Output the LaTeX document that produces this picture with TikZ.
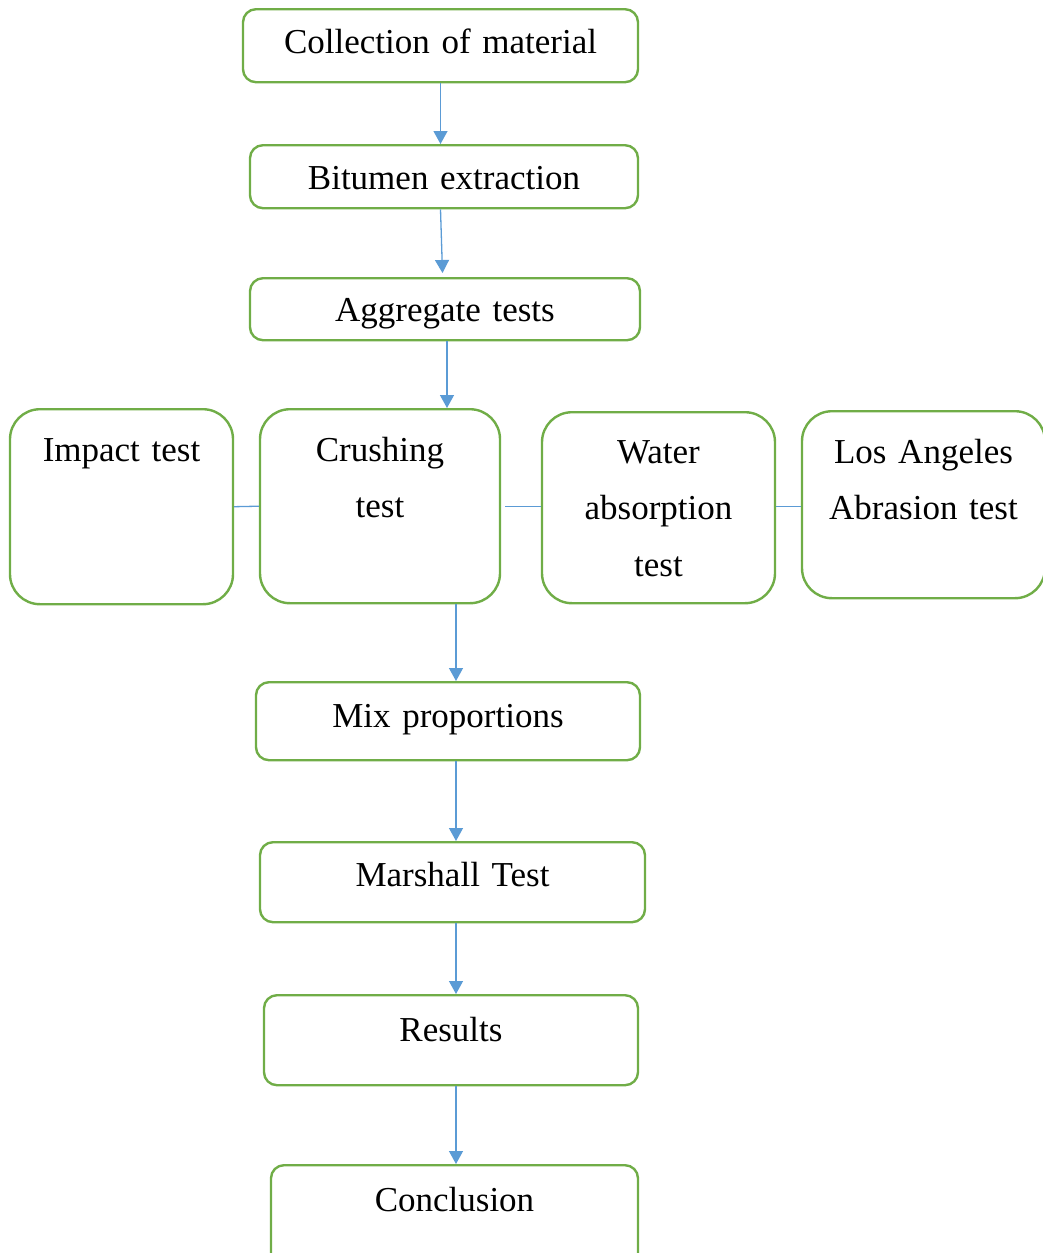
\documentclass[tikz,border=0pt]{standalone}
\usepackage{fontspec}
\setmainfont{Liberation Serif}
\usetikzlibrary{arrows.meta,calc}
\definecolor{boxgreen}{HTML}{70AD47}
\definecolor{linkblue}{HTML}{5B9BD5}
\begin{document}
\begin{tikzpicture}[x=1pt,y=-1pt,
  box/.style={draw=boxgreen, line width=2.4pt, rounded corners=13pt, inner sep=0pt,
    anchor=north, align=center, font=\fontsize{35}{56.5}\selectfont},
  tallbox/.style={box, rounded corners=30pt},
  arr/.style={draw=linkblue, line width=1.3pt, -{Triangle[width=14pt,length=13pt]}},
  link/.style={draw=linkblue, line width=1.3pt}]
\useasboundingbox (0,0) rectangle (1042,1253);

\node[box, text width=395pt, text height=44pt, text depth=29pt] (collect) at (440.5,8) {Collection of material};
\node[box, text width=388pt, text height=44pt, text depth=19pt] (bitumen) at (444,144) {Bitumen extraction};
\node[box, text width=390pt, text height=43pt, text depth=19pt] (aggr) at (445,277) {Aggregate tests};

\node[tallbox, text width=223pt, text height=52pt, text depth=143pt] (impact) at (121.5,408) {Impact test};
\node[tallbox, text width=240pt, text height=52pt, text depth=142pt] (crush) at (380,408) {Crushing\\test};
\node[tallbox, text width=233pt, text height=51pt, text depth=140pt] (water) at (658.5,411) {Water\\absorption\\test};
\node[tallbox, text width=243pt, text height=52pt, text depth=135pt] (la) at (923.5,410) {Los Angeles\\Abrasion test};

\node[box, text width=384pt, text height=45pt, text depth=33pt] (mix) at (448,681) {Mix proportions};
\node[box, text width=385pt, text height=44pt, text depth=36pt] (marshall) at (452.5,841) {Marshall Test};
\node[box, text width=374pt, text height=46pt, text depth=44pt] (results) at (451,994) {Results};
\node[box, text width=367pt, text height=46pt, text depth=65pt] (concl) at (454.5,1164) {Conclusion};

\coordinate (axis) at (456,0);

\draw[arr] (collect.south) -- (collect.south |- bitumen.north);
\draw[arr] (collect.south |- bitumen.south) -- ($(collect.south |- aggr.north)+(2,-4)$);
\draw[arr] ($(aggr.south)+(2,0)$) -- ($(aggr.south |- crush.north)+(2,0)$);

\draw[link] (impact.east) -- (crush.west);
\draw[link] ($(crush.east)+(4,0)$) -- (crush.east -| water.west);
\draw[link] (water.east |- crush.east) -- (crush.east -| la.west);

\draw[arr] (crush.south -| axis) -- (mix.north -| axis);
\draw[arr] (mix.south -| axis) -- (marshall.north -| axis);
\draw[arr] (marshall.south -| axis) -- (results.north -| axis);
\draw[arr] (results.south -| axis) -- (concl.north -| axis);
\end{tikzpicture}
\end{document}
